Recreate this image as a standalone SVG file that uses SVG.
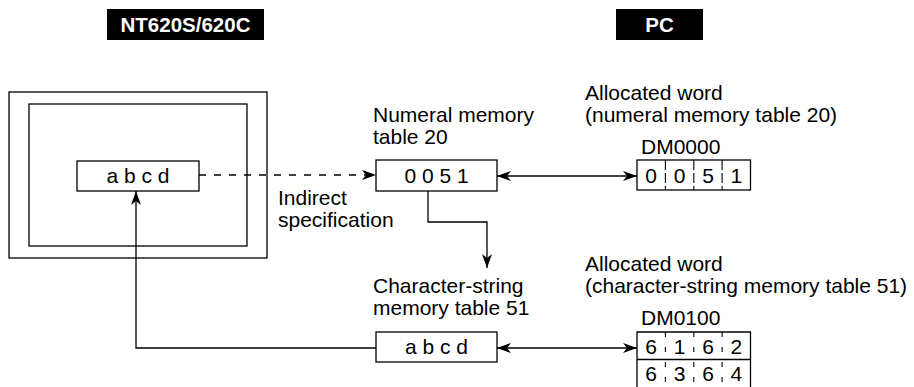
<svg xmlns="http://www.w3.org/2000/svg" width="914" height="387" viewBox="0 0 914 387">
<style>
text{font-family:"Liberation Sans",Arial,sans-serif;font-size:21px;fill:#000}
.hd{font-weight:bold;fill:#fff;font-size:20.5px}
.c{text-anchor:middle}
.box{fill:#fff;stroke:#000;stroke-width:1.3}
.ln{fill:none;stroke:#000;stroke-width:1.3}
.dv{stroke:#000;stroke-width:1.1;stroke-dasharray:10 3}
.dv2{stroke:#000;stroke-width:1.1;stroke-dasharray:5 10}
</style>
<defs>
<marker id="ah" markerUnits="userSpaceOnUse" markerWidth="15" markerHeight="11" refX="14" refY="5.5" orient="auto-start-reverse">
<path d="M0,0.5 L14,5.5 L0,10.5 L4,5.5 z" fill="#000"/>
</marker>
</defs>
<rect width="914" height="387" fill="#fff"/>
<g id="hdr-nt">
<rect x="107" y="9" width="157" height="31" fill="#000"/>
<text class="hd c" x="185.5" y="31.5">NT620S/620C</text>
</g>
<g id="hdr-pc">
<rect x="616" y="9" width="87" height="31" fill="#000"/>
<text class="hd c" x="659.5" y="31.5">PC</text>
</g>
<g id="screen">
<rect class="box" x="9" y="92" width="258" height="166"/>
<rect class="box" x="29" y="104" width="218" height="142"/>
</g>
<g id="screen-field">
<rect class="box" x="77" y="161" width="122" height="30"/>
<text class="c" x="138" y="183">a b c d</text>
</g>
<g id="numeral-table">
<text x="373" y="122">Numeral memory</text>
<text x="373" y="144">table 20</text>
<rect class="box" x="376" y="160" width="121" height="31"/>
<text class="c" x="436.5" y="183">0 0 5 1</text>
</g>
<g id="dm0000">
<text x="585" y="100">Allocated word</text>
<text x="585" y="122">(numeral memory table 20)</text>
<text x="641" y="154">DM0000</text>
<rect class="box" x="637" y="160" width="113.5" height="30"/>
<line class="dv" x1="665.4" y1="160" x2="665.4" y2="190"/>
<line class="dv" x1="693.8" y1="160" x2="693.8" y2="190"/>
<line class="dv" x1="722.1" y1="160" x2="722.1" y2="190"/>
<text class="c" x="651.2" y="183">0</text>
<text class="c" x="679.6" y="183">0</text>
<text class="c" x="708" y="183">5</text>
<text class="c" x="736.3" y="183">1</text>
</g>
<g id="indirect-label">
<text x="278" y="205">Indirect</text>
<text x="278" y="227">specification</text>
</g>
<g id="char-table">
<text x="373" y="293">Character-string</text>
<text x="373" y="315">memory table 51</text>
<rect class="box" x="376" y="332" width="121" height="30"/>
<text class="c" x="436.5" y="354">a b c d</text>
</g>
<g id="dm0100">
<text x="585" y="271">Allocated word</text>
<text x="585" y="293">(character-string memory table 51)</text>
<text x="641" y="325">DM0100</text>
<path class="ln" d="M637,392 V332 H750.5 V392 M637,359.5 H750.5"/>
<line class="dv2" x1="665.4" y1="332" x2="665.4" y2="390"/>
<line class="dv2" x1="693.8" y1="332" x2="693.8" y2="390"/>
<line class="dv2" x1="722.1" y1="332" x2="722.1" y2="390"/>
<text class="c" x="651.2" y="354">6</text>
<text class="c" x="679.6" y="354">1</text>
<text class="c" x="708" y="354">6</text>
<text class="c" x="736.3" y="354">2</text>
<text class="c" x="651.2" y="381">6</text>
<text class="c" x="679.6" y="381">3</text>
<text class="c" x="708" y="381">6</text>
<text class="c" x="736.3" y="381">4</text>
</g>
<g id="connectors">
<line class="ln" x1="199" y1="175" x2="376" y2="175" stroke-dasharray="7 8" marker-end="url(#ah)"/>
<line class="ln" x1="497" y1="176" x2="637" y2="176" marker-start="url(#ah)" marker-end="url(#ah)"/>
<path class="ln" d="M428,191 V222 H487 V268" marker-end="url(#ah)"/>
<line class="ln" x1="497" y1="348" x2="637" y2="348" marker-start="url(#ah)" marker-end="url(#ah)"/>
<path class="ln" d="M376,348 H136 V191" marker-end="url(#ah)"/>
</g>
</svg>
